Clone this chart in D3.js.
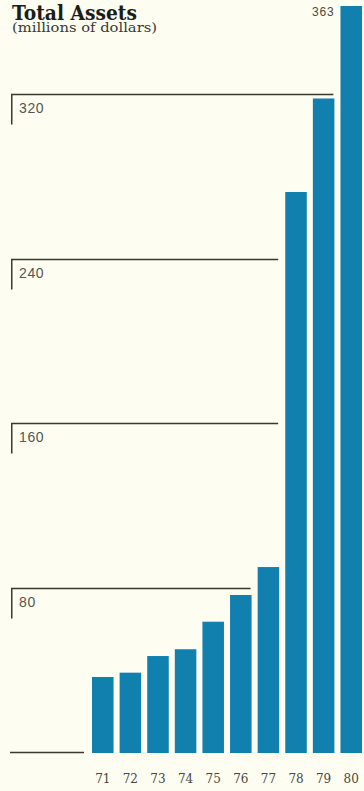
<!DOCTYPE html>
<html>
<head>
<meta charset="utf-8">
<script src="https://cdn.jsdelivr.net/npm/d3@7"></script>
<style>
  html, body { margin: 0; padding: 0; background: #fdfdf1; }
  svg { display: block; }
</style>
</head>
<body>
<svg id="chart" width="364" height="791"></svg>
<script>
// Total assets by year, millions of dollars
const years = ["71", "72", "73", "74", "75", "76", "77", "78", "79", "80"];
const assets = [36.5, 38.6, 46.7, 50, 63.4, 76.4, 90, 272.5, 318, 363];
const tickValues = [80, 160, 240, 320];
const labelledYear = "80";

const svg = d3.select("#chart");
const W = 364, H = 791;

svg.append("rect").attr("width", W).attr("height", H).attr("fill", "#fdfdf1");

const x = d3.scaleBand().domain(years).range([92, 362]).paddingInner(0.22).paddingOuter(0);
const y = d3.scaleLinear().domain([0, 363]).range([752, 6]);

const ink = "#3a3a2c";
const barColor = "#1280ae";

// Title block: heading and units line
const title = svg.append("text")
  .attr("font-family", "'DejaVu Serif', serif");
title.append("tspan")
  .attr("x", 12).attr("y", 20)
  .attr("font-weight", "bold")
  .attr("font-size", 20)
  .attr("textLength", 125).attr("lengthAdjust", "spacingAndGlyphs")
  .attr("fill", "#1c1c18")
  .text("Total Assets");
title.append("tspan")
  .attr("x", 12).attr("y", 32)
  .attr("font-size", 12.5)
  .attr("textLength", 145).attr("lengthAdjust", "spacingAndGlyphs")
  .attr("fill", "#3a3a34")
  .text("(millions of dollars)");

// Gridlines: each runs from the left edge up to the bar before the first one that exceeds it
const grid = svg.append("g");
tickValues.forEach(t => {
  const firstAbove = assets.findIndex(v => v > t);
  const prev = years[firstAbove - 1];
  const xEnd = x(prev) + x.bandwidth() - 1;
  const yy = Math.round(y(t)) + 0.5;
  grid.append("line")
    .attr("x1", 11).attr("x2", xEnd)
    .attr("y1", yy).attr("y2", yy)
    .attr("stroke", ink).attr("stroke-width", 1.5);
  grid.append("line")
    .attr("x1", 11.75).attr("x2", 11.75)
    .attr("y1", yy).attr("y2", yy + 30)
    .attr("stroke", ink).attr("stroke-width", 1.5);
  grid.append("text")
    .attr("x", 19).attr("y", yy + 18.5)
    .attr("font-family", "'Liberation Sans', Arial, sans-serif")
    .attr("font-size", 14)
    .attr("letter-spacing", 0.6)
    .attr("fill", "#56564e")
    .text(t);
});

// Baseline stub left of the bars
svg.append("line")
  .attr("x1", 10).attr("x2", 84)
  .attr("y1", y(0) + 0.5).attr("y2", y(0) + 0.5)
  .attr("stroke", ink).attr("stroke-width", 1.5);

// Bars
svg.append("g").selectAll("rect")
  .data(years.map((yr, i) => ({ yr, v: assets[i] })))
  .join("rect")
  .attr("x", d => x(d.yr))
  .attr("y", d => y(d.v))
  .attr("width", x.bandwidth())
  .attr("height", d => y(0) - y(d.v) + 1)
  .attr("fill", barColor);

// Value label on the final year
const lastIdx = years.indexOf(labelledYear);
svg.append("text")
  .attr("x", x(labelledYear) - 6)
  .attr("y", y(assets[lastIdx]) + 9.5)
  .attr("text-anchor", "end")
  .attr("font-family", "'Liberation Sans', Arial, sans-serif")
  .attr("font-size", 12)
  .attr("letter-spacing", 0.8)
  .attr("fill", "#4a4a44")
  .text(assets[lastIdx]);

// Year axis labels
const xAxis = d3.axisBottom(x).tickSize(0).tickPadding(0);
const ax = svg.append("g").attr("transform", `translate(0, ${y(0)})`).call(xAxis);
ax.select(".domain").remove();
ax.selectAll("text")
  .attr("y", 31)
  .attr("dy", 0)
  .attr("font-family", "'DejaVu Serif', serif")
  .attr("font-size", 12)
  .attr("fill", "#48483f");
</script>
</body>
</html>
